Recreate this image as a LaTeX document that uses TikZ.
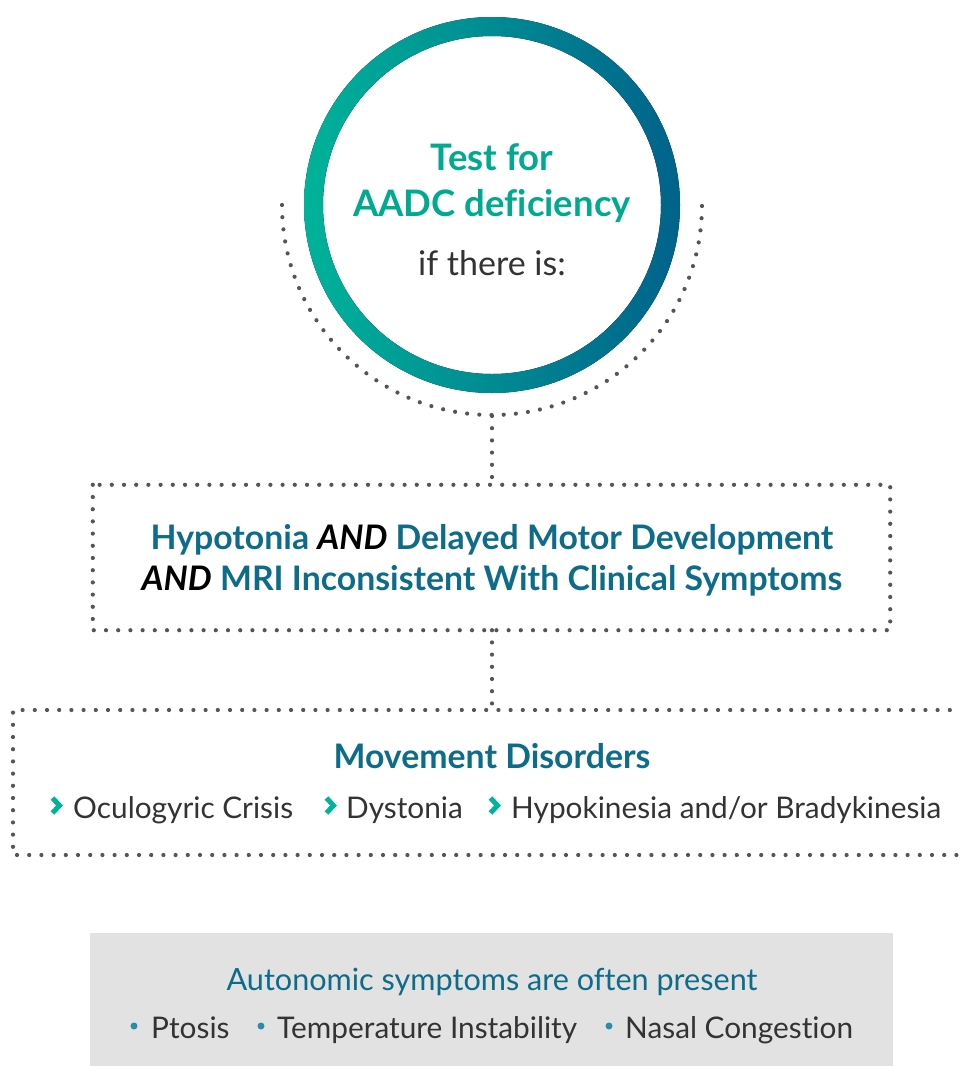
\documentclass[tikz,border=0pt]{standalone}
\usepackage{fontspec}
\setmainfont{Lato}[Ligatures=NoCommon]
\definecolor{ringL}{HTML}{00B39A}
\definecolor{ringR}{HTML}{00628B}
\definecolor{headTeal}{HTML}{00AA8F}
\definecolor{headBlue}{HTML}{0C6C89}
\definecolor{bodyGray}{HTML}{333333}
\definecolor{dotGray}{HTML}{555555}
\definecolor{panelGray}{HTML}{E2E2E2}
\definecolor{bulletBlue}{HTML}{2B8EA8}
\tikzset{
  dotline/.style={dotGray, line width=4.2pt, line cap=round, dash pattern=on 0pt off 12.2pt},
  headtxt/.style={anchor=base, text=headTeal, font=\fontsize{36.5}{42}\selectfont\bfseries},
  bluetxt/.style={anchor=base, text=headBlue, font=\fontsize{33.8}{40}\selectfont\bfseries},
  bodytxt/.style={anchor=base west, text=bodyGray, font=\fontsize{29.8}{35}\selectfont, inner sep=0pt},
  chev/.style={ringL, line width=5pt, line join=miter},
  dotmark/.style={circle, fill=bulletBlue, inner sep=0pt, minimum size=7pt},
}
\newcommand{\andw}{\textcolor{black}{\itshape AND}}
\begin{document}
\begin{tikzpicture}[x=1pt, y=-1pt]
\useasboundingbox (0,0) rectangle (960,1066);

% central ring with left-to-right colour blend
\node[circle, minimum size=376pt, inner sep=0pt] (ring) at (492,205) {};
\fill[even odd rule, left color=ringL, right color=ringR]
  (ring.center) circle[radius=188] (ring.center) circle[radius=169];

\node[headtxt] (test) at (492,170) {Test for};
\node[headtxt] (aadc) at (492,216) {AADC deficiency};
\node[anchor=base, text=bodyGray, font=\fontsize{34}{40}\selectfont] (ifthere) at (492,275) {if there is:};

% dotted cradle under the ring
\coordinate (arcL) at (282,205);
\coordinate (arcB) at (492,416);
\draw[dotline] (arcL) arc[start angle=180, end angle=0, radius=210];

% first criteria box
\node[draw=none, minimum width=797pt, minimum height=145pt, inner sep=0pt] (crit) at (491.5,557.5) {};
\draw[dotline] (crit.north west) rectangle (crit.south east);
\node[bluetxt] (l1) at (492,549) {Hypotonia \andw{} Delayed Motor Development};
\node[bluetxt] (l2) at (492,590) {\andw{} MRI Inconsistent With Clinical Symptoms};

\draw[dotline] (arcB) -- (crit.north -| arcB);

% movement disorders box, open towards the right edge
\coordinate (mvNW) at (13,710);
\coordinate (mvNE) at (962,710);
\coordinate (mvSW) at (13,855);
\coordinate (mvSE) at (962,855);
\draw[dotline] (mvNE) -- (mvNW) -- (mvSW) -- (mvSE);
\draw[dotline] (crit.south -| arcB) -- (mvNW -| arcB);

\node[bluetxt] (mvhead) at (492,768) {Movement Disorders};
\draw[chev] (52.5,798) -- (59.5,805.5) -- (52.5,813);
\node[bodytxt] (oc) at (73,818) {Oculogyric Crisis};
\draw[chev] (326.5,798) -- (333.5,805.5) -- (326.5,813);
\node[bodytxt] (dy) at (346,818) {Dystonia};
\draw[chev] (490.5,798) -- (497.5,805.5) -- (490.5,813);
\node[bodytxt] (hy) at (511,818) {Hypokinesia and/or Bradykinesia};

% autonomic symptoms panel
\node[fill=panelGray, minimum width=803pt, minimum height=134pt, inner sep=0pt] (panel) at (491.5,1000) {};
\node[anchor=base, text=headBlue, font=\fontsize{30.6}{36}\selectfont] (auto) at (492,990) {Autonomic symptoms are often present};
\node[dotmark] (b1) at (134,1026) {};
\node[bodytxt] (pt) at (151,1038) {Ptosis};
\node[dotmark] (b2) at (261,1026) {};
\node[bodytxt] (te) at (277,1038) {Temperature Instability};
\node[dotmark] (b3) at (609,1026) {};
\node[bodytxt] (na) at (625,1038) {Nasal Congestion};
\end{tikzpicture}
\end{document}
